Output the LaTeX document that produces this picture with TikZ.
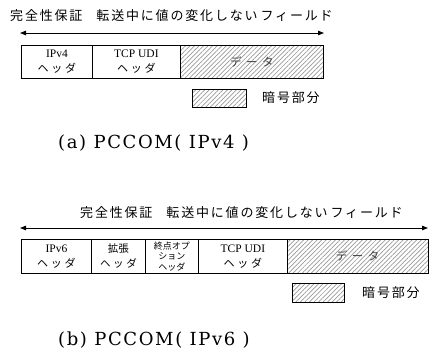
\documentclass[tikz,border=0pt]{standalone}
\usepackage{fontspec}
\setmainfont{Liberation Serif}
\newfontfamily\capfont{DejaVu Serif}[LetterSpace=9]
\newfontfamily\jp{Noto Sans CJK JP}
\newfontfamily\jpt{Noto Sans CJK JP}[LetterSpace=14]
\newfontfamily\jpw{Noto Sans CJK JP}[LetterSpace=25]
\newfontfamily\jpd{Noto Sans CJK JP}[LetterSpace=40]
\usetikzlibrary{patterns.meta,arrows.meta}
\begin{document}
\begin{tikzpicture}[x=1pt,y=-1pt,
  fld/.style={draw, line width=0.8pt, anchor=north west, inner sep=0pt, align=center,
    font=\fontsize{11.5}{15}\selectfont},
  hatch/.style={pattern={Lines[angle=45,distance=3.2pt,line width=0.7pt]}, pattern color=black!40},
  dbl/.style={line width=1pt, {Triangle[length=6pt,width=4.5pt]}-{Triangle[length=6pt,width=4.5pt]}},
  ttl/.style={anchor=west, inner sep=0pt, font=\jpt\fontsize{13}{13}\selectfont},
  leg/.style={anchor=west, inner sep=0pt, font=\jpt\fontsize{13}{13}\selectfont},
  dat/.style={font=\jpd\fontsize{11.5}{12}\selectfont, text=black!75},
  captxt/.style={anchor=west, inner sep=0pt, font=\capfont\fontsize{18}{18}\selectfont}]
\useasboundingbox (0,0) rectangle (429,349);
% ---------- (a) ----------
\node[ttl] (ta) at (10,16) {完全性保証\hspace{14pt}転送中に値の変化しない\hspace{3pt}フィールド};
\coordinate (al) at (20,33);
\coordinate (ar) at (324,33);
\draw[dbl] (al) -- (ar);
\node[fld, minimum width=71pt, minimum height=33pt] (a1) at (21,45) {IPv4\\{\jpw\fontsize{11}{15}\selectfont ヘッダ}};
\node[fld, minimum width=88pt, minimum height=33pt] (a2) at (92,45) {TCP UDI\\{\jpw\fontsize{11}{15}\selectfont ヘッダ}};
\node[fld, hatch, minimum width=143pt, minimum height=33pt] (a3) at (180,45) {};
\node[dat] (a3t) at (a3.center) {データ};
\node[draw, hatch, line width=0.8pt, anchor=north west, minimum width=54pt, minimum height=18pt, inner sep=0pt] (la) at (192,89) {};
\node[leg] (lta) at (262,98) {暗号部分};
\node[captxt] (ca) at (58,143) {(a) PCCOM( IPv4 )};
% ---------- (b) ----------
\node[ttl] (tb) at (80,213) {完全性保証\hspace{14pt}転送中に値の変化しない\hspace{3pt}フィールド};
\coordinate (bl) at (20,228);
\coordinate (br) at (428,228);
\draw[dbl] (bl) -- (br);
\node[fld, minimum width=70pt, minimum height=34pt] (b1) at (21,239) {IPv6\\{\jpw\fontsize{11}{15}\selectfont ヘッダ}};
\node[fld, minimum width=54pt, minimum height=34pt, font=\jp\fontsize{10.5}{15}\selectfont] (b2) at (91,239) {拡張\\{\jpw ヘッダ}};
\node[fld, minimum width=53pt, minimum height=34pt, font=\jp\fontsize{9}{10.5}\selectfont] (b3) at (145,239) {終点オプ\\ション\\ヘッダ};
\node[fld, minimum width=89pt, minimum height=34pt] (b4) at (198,239) {TCP UDI\\{\jpw\fontsize{11}{15}\selectfont ヘッダ}};
\node[fld, hatch, minimum width=140.5pt, minimum height=34pt] (b5) at (287,239) {};
\node[dat] (b5t) at (b5.center) {データ};
\node[draw, hatch, line width=0.8pt, anchor=north west, minimum width=52pt, minimum height=19pt, inner sep=0pt] (lb) at (292,283) {};
\node[leg] (ltb) at (362,293) {暗号部分};
\node[captxt] (cb) at (58,340) {(b) PCCOM( IPv6 )};
\end{tikzpicture}
\end{document}
